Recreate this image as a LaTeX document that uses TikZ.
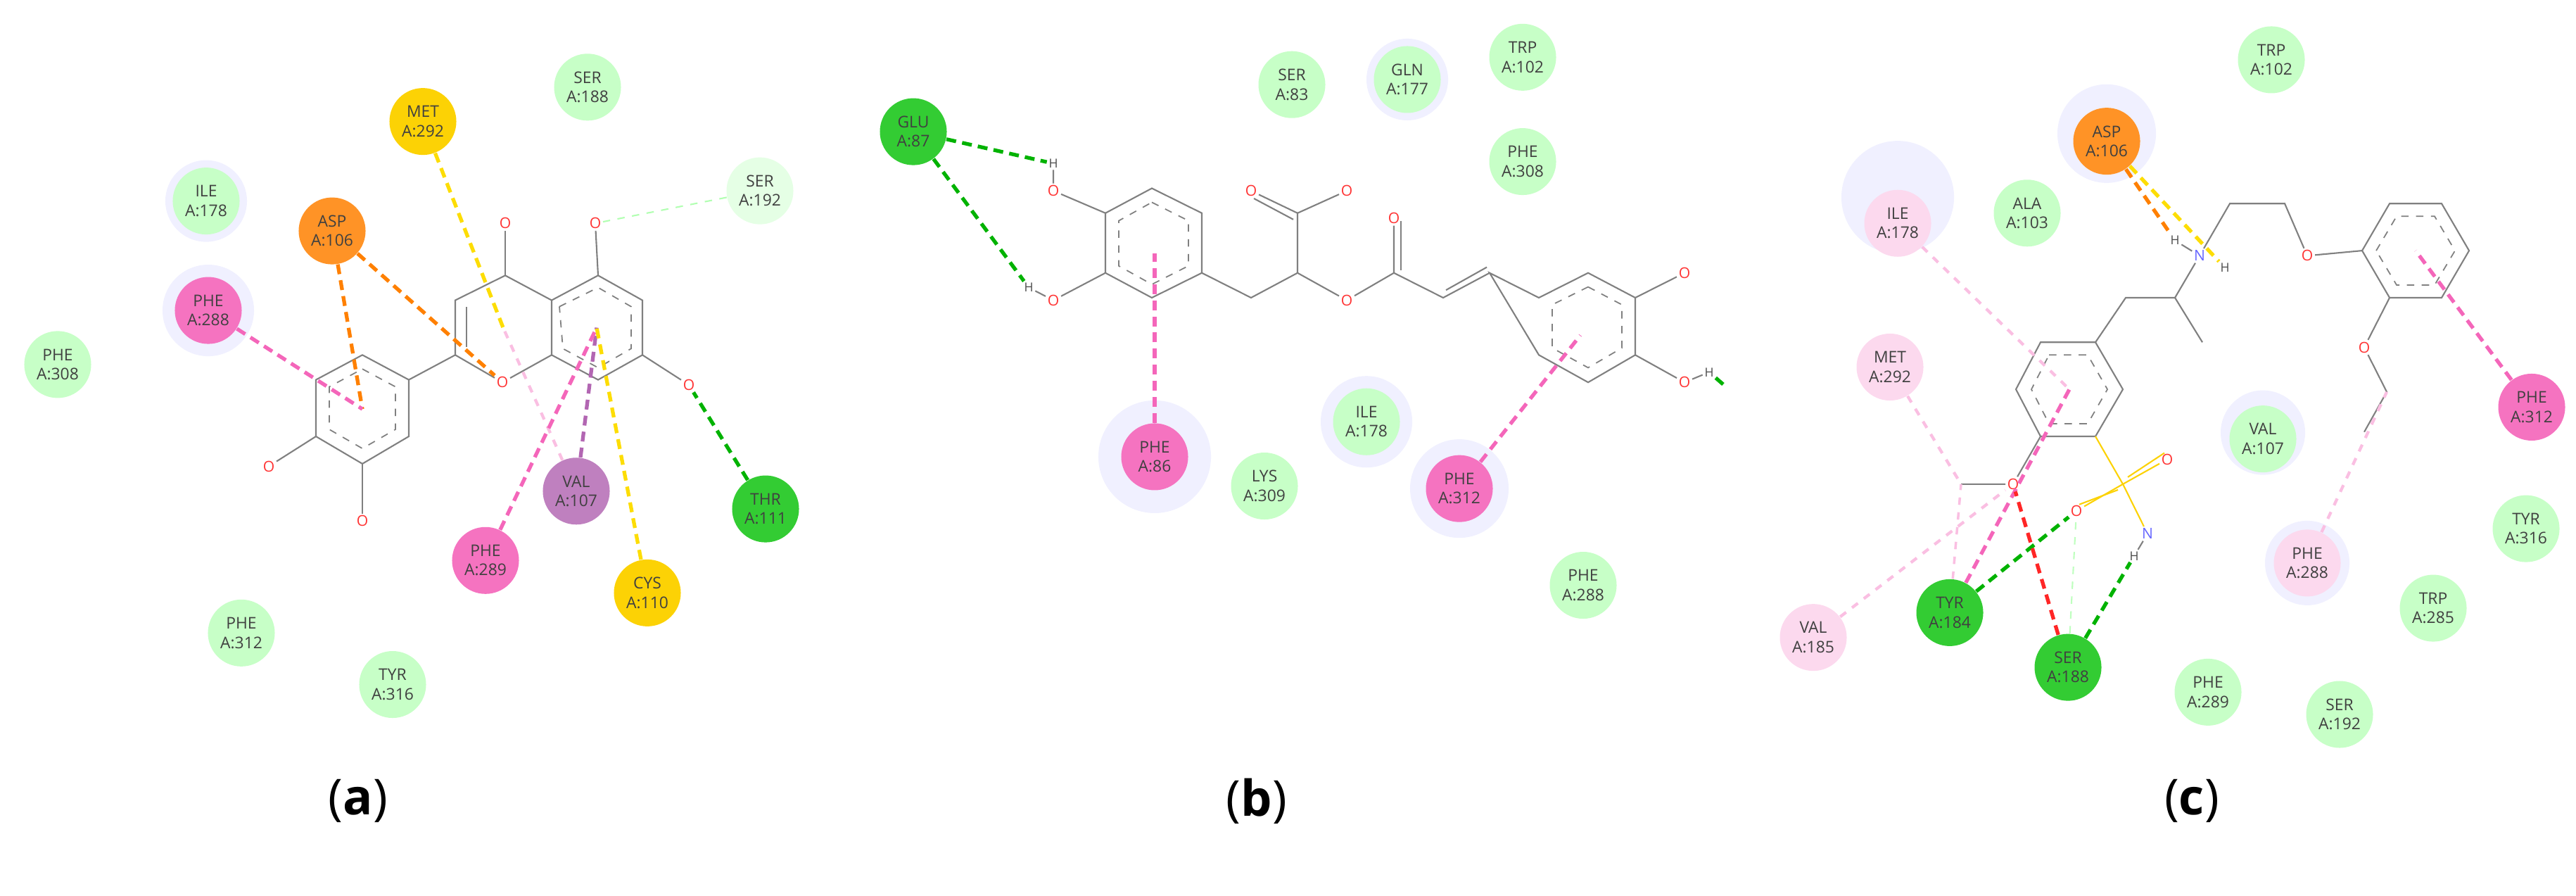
\documentclass[tikz,border=0pt]{standalone}
\usepackage{fontspec}
\setmainfont{Open Sans}
\begin{document}
\begin{tikzpicture}[x=0.01cm,y=-0.00903cm,
 res/.style={circle,minimum size=0.95cm,inner sep=0pt,align=center,font=\fontsize{6.5}{7.8}\selectfont,text=black!75},
 lg/.style={res,fill=green!22},
 dg/.style={res,fill=green!75!black!80},
 pk/.style={res,fill=magenta!55},
 lp/.style={res,fill=magenta!15},
 og/.style={res,fill=orange!85},
 yl/.style={res,fill=yellow!70!orange},
 pu/.style={res,fill=violet!50},
 halo/.style={fill=blue!6},
 bd/.style={gray,line width=0.6pt},
 ar/.style={gray,line width=0.5pt,dashed},
 oat/.style={inner sep=0.6pt,font=\fontsize{6}{6}\selectfont,text=red!80},
 hat/.style={inner sep=0.6pt,font=\fontsize{5}{5}\selectfont,text=black!70},
 nat/.style={inner sep=0.6pt,font=\fontsize{6}{6}\selectfont,text=blue!60},
 ia/.style={line width=1.5pt,dash pattern=on 4pt off 2.5pt},
 captxt/.style={font=\fontsize{20}{24}\selectfont}]
\useasboundingbox (0,0) rectangle (3661,1407.5);
% ================= (a)
\fill[halo] (296,488) circle (0.65cm); \fill[halo] (293,316) circle (0.58cm);
\coordinate (b1) at (515,558); \coordinate (b2) at (581,597); \coordinate (b3) at (581,686);
\coordinate (b4) at (515,729); \coordinate (b5) at (449,686); \coordinate (b6) at (449,597);
\coordinate (c2) at (647,558); \coordinate (c3) at (647,472); \coordinate (c4) at (718,433);
\coordinate (c4a) at (784,472); \coordinate (c8a) at (784,558);
\coordinate (c5) at (850,433); \coordinate (c6) at (913,472); \coordinate (c7) at (913,558); \coordinate (c8) at (850,597);
\node[oat] (o1) at (714,601) {O}; \node[oat] (o4) at (718,351) {O}; \node[oat] (o5) at (846,351) {O};
\node[oat] (o7) at (979,605) {O}; \node[oat] (ob1) at (382,733) {O}; \node[oat] (ob2) at (515,819) {O};
\draw[bd] (b1)--(b2)--(b3)--(b4)--(b5)--(b6)--cycle;
\draw[ar] (515,580)--(562,608)--(562,675)--(515,705)--(468,675)--(468,608)--cycle;
\draw[bd] (b2)--(c2)--(c3)--(c4)--(c4a)--(c8a); \draw[bd] (c2)--(o1)--(c8a);
\draw[bd] (663,545)--(663,482);
\draw[bd] (c4)--(o4); \draw[bd] (c4a)--(c5)--(c6)--(c7)--(c8)--(c8a);
\draw[ar] (795,482)--(850,452)--(897,482)--(897,548)--(850,578)--(800,548)--cycle;
\draw[bd] (c5)--(o5); \draw[bd] (c7)--(o7); \draw[bd] (b5)--(ob1); \draw[bd] (b4)--(ob2);
\coordinate (rB) at (515,643); \coordinate (rC) at (715,515); \coordinate (rA) at (848,515);
\node[yl] (met292) at (601,191) {MET\\A:292};
\node[lg] (ser188a) at (835,137) {SER\\A:188};
\node[res,fill=green!10] (ser192a) at (1080,300) {SER\\A:192};
\node[lg] (ile178a) at (293,316) {ILE\\A:178};
\node[og] (asp106a) at (472,363) {ASP\\A:106};
\node[pk] (phe288a) at (296,488) {PHE\\A:288};
\node[lg] (phe308a) at (82,573) {PHE\\A:308};
\node[pu] (val107a) at (819,772) {VAL\\A:107};
\node[dg] (thr111) at (1088,800) {THR\\A:111};
\node[pk] (phe289a) at (690,881) {PHE\\A:289};
\node[yl] (cys110) at (920,932) {CYS\\A:110};
\node[lg] (phe312a) at (343,995) {PHE\\A:312};
\node[lg] (tyr316a) at (558,1076) {TYR\\A:316};
\draw[ia,yellow!80!orange] (met292)--(rC);
\draw[ia,orange] (asp106a)--(rB); \draw[ia,orange] (asp106a)--(o1);
\draw[ia,magenta!60] (phe288a)--(rB);
\draw[green!30,line width=0.6pt,dashed] (ser192a)--(o5);
\draw[ia,violet!60] (val107a)--(rA);
\draw[magenta!25,line width=1.2pt,dashed] (val107a)--(rC);
\draw[ia,magenta!60] (phe289a)--(rA);
\draw[ia,yellow!80!orange] (cys110)--(rA);
\draw[ia,green!70!black] (thr111)--(o7);
\node[captxt] (capa) at (509,1259) {(\textbf{a})};
% ================= (b)
\fill[halo] (1641,718) circle (0.8cm); \fill[halo] (2074,768) circle (0.7cm); \fill[halo] (1942,663) circle (0.65cm); \fill[halo] (2000,125) circle (0.58cm);
\coordinate (p1) at (1637,296); \coordinate (p2) at (1708,335); \coordinate (p3) at (1708,429);
\coordinate (p4) at (1637,468); \coordinate (p5) at (1571,429); \coordinate (p6) at (1571,335);
\node[oat] (bo1) at (1497,300) {O}; \node[hat] (bh1) at (1497,257) {H};
\node[oat] (bo2) at (1497,472) {O}; \node[hat] (bh2) at (1462,452) {H};
\coordinate (ch2) at (1778,468); \coordinate (ch) at (1844,429); \coordinate (cc) at (1844,335);
\node[oat] (oeq) at (1778,300) {O}; \node[oat] (ooh) at (1914,300) {O};
\node[oat] (oest) at (1914,472) {O}; \coordinate (ce) at (1981,429); \node[oat] (oe) at (1981,343) {O};
\coordinate (cha) at (2051,468); \coordinate (chb) at (2117,429);
\coordinate (q1) at (2187,468); \coordinate (q2) at (2257,429); \coordinate (q3) at (2324,468);
\coordinate (q4) at (2324,558); \coordinate (q5) at (2257,601); \coordinate (q6) at (2187,558);
\node[oat] (bo3) at (2394,429) {O}; \node[oat] (bo4) at (2394,601) {O}; \node[hat] (bh4) at (2429,585) {H};
\coordinate (stub) at (2455,610);
\draw[bd] (p1)--(p2)--(p3)--(p4)--(p5)--(p6)--cycle;
\draw[ar] (1637,318)--(1689,347)--(1689,418)--(1637,447)--(1590,418)--(1590,347)--cycle;
\draw[bd] (p6)--(bo1)--(bh1); \draw[bd] (p5)--(bo2)--(bh2);
\draw[bd] (p3)--(ch2)--(ch)--(cc)--(ooh); \draw[bd] (cc)--(oeq); \draw[bd] (1838,345)--(1782,312);
\draw[bd] (ch)--(oest)--(ce)--(oe); \draw[bd] (1991,425)--(1991,347);
\draw[bd] (ce)--(cha)--(chb); \draw[bd] (2055,456)--(2113,420);
\draw[bd] (chb)--(q1)--(q2)--(q3)--(q4)--(q5)--(q6)--cycle;
\draw[ar] (2257,451)--(2305,479)--(2305,547)--(2257,578)--(2206,547)--(2206,479)--cycle;
\draw[bd] (q3)--(bo3); \draw[bd] (q4)--(bo4)--(bh4);
\node[dg] (glu87) at (1298,207) {GLU\\A:87};
\node[lg] (ser83) at (1836,133) {SER\\A:83};
\node[lg] (gln177) at (2000,125) {GLN\\A:177};
\node[lg] (trp102b) at (2164,90) {TRP\\A:102};
\node[lg] (phe308b) at (2164,254) {PHE\\A:308};
\node[pk] (phe86) at (1641,718) {PHE\\A:86};
\node[lg] (lys309) at (1797,764) {LYS\\A:309};
\node[lg] (ile178b) at (1942,663) {ILE\\A:178};
\node[pk] (phe312b) at (2074,768) {PHE\\A:312};
\node[lg] (phe288b) at (2250,920) {PHE\\A:288};
\draw[ia,green!70!black] (glu87)--(bh1); \draw[ia,green!70!black] (glu87)--(bh2);
\draw[ia,magenta!60] (phe86)--(1641,398);
\draw[ia,magenta!60] (phe312b)--(2246,527);
\draw[ia,green!70!black] (bh4)--(stub);
\node[captxt] (capb) at (1786,1259) {(\textbf{b})};
% ================= (c)
\fill[halo] (2697,310) circle (0.8cm); \fill[halo] (2994,210) circle (0.7cm); \fill[halo] (3216,680) circle (0.6cm); \fill[halo] (3279,885) circle (0.6cm);
\coordinate (r1) at (2900,538); \coordinate (r2) at (2978,538); \coordinate (r3) at (3017,612);
\coordinate (r4) at (2978,686); \coordinate (r5) at (2900,686); \coordinate (r6) at (2865,612);
\coordinate (cch2) at (3021,468); \coordinate (cch) at (3091,468); \node[nat] (cn) at (3126,402) {N};
\coordinate (cme) at (3130,538); \node[hat] (ch1) at (3091,378) {H}; \node[hat] (ch2h) at (3162,421) {H};
\coordinate (n1) at (3169,320); \coordinate (n2) at (3247,320); \node[oat] (co1) at (3279,402) {O};
\coordinate (s1) at (3357,394); \coordinate (s2) at (3396,320); \coordinate (s3) at (3470,320);
\coordinate (s4) at (3509,394); \coordinate (s5) at (3470,468); \coordinate (s6) at (3396,468);
\node[oat] (co2) at (3360,546) {O}; \coordinate (et1) at (3392,616); \coordinate (et2) at (3360,679);
\node[oat] (com) at (2861,761) {O}; \coordinate (cmc) at (2787,761);
\coordinate (cs) at (3017,761); \node[oat] (cso1) at (3080,722) {O}; \node[oat] (cso2) at (2951,803) {O};
\node[nat] (csn) at (3052,839) {N}; \node[hat] (csh) at (3033,874) {H};
\draw[bd] (r1)--(r2)--(r3)--(r4)--(r5)--(r6)--cycle;
\draw[ar] (2912,558)--(2967,558)--(2995,612)--(2967,666)--(2912,666)--(2887,612)--cycle;
\draw[bd] (r2)--(cch2)--(cch)--(cn)--(n1)--(n2)--(co1)--(s1); \draw[bd] (cch)--(cme);
\draw[bd] (cn)--(ch1);
\draw[bd] (s1)--(s2)--(s3)--(s4)--(s5)--(s6)--cycle;
\draw[ar] (3377,394)--(3406,340)--(3460,340)--(3489,394)--(3460,448)--(3406,448)--cycle;
\draw[bd] (s6)--(co2)--(et1)--(et2);
\draw[bd] (r5)--(com)--(cmc);
\draw[bd,yellow!70!orange] (r4)--(cs)--(csn); \draw[bd,yellow!70!orange] (cs)--(cso1); \draw[bd,yellow!70!orange] (3024,750)--(3076,712);
\draw[bd,yellow!70!orange] (cs)--(cso2); \draw[bd,yellow!70!orange] (3010,770)--(2955,793); \draw[bd] (csn)--(csh);
\node[lg] (trp102c) at (3228,94) {TRP\\A:102};
\node[og] (asp106c) at (2994,222) {ASP\\A:106};
\node[lp] (ile178c) at (2697,351) {ILE\\A:178};
\node[lg] (ala103) at (2881,335) {ALA\\A:103};
\node[lp] (met292c) at (2686,577) {MET\\A:292};
\node[lg] (val107c) at (3216,690) {VAL\\A:107};
\node[pk] (phe312c) at (3598,640) {PHE\\A:312};
\node[lg] (tyr316c) at (3590,831) {TYR\\A:316};
\node[lp] (phe288c) at (3279,885) {PHE\\A:288};
\node[lg] (trp285) at (3458,956) {TRP\\A:285};
\node[lp] (val185) at (2577,1002) {VAL\\A:185};
\node[dg] (tyr184) at (2771,963) {TYR\\A:184};
\node[dg] (ser188c) at (2939,1049) {SER\\A:188};
\node[lg] (phe289c) at (3138,1088) {PHE\\A:289};
\node[lg] (ser192c) at (3325,1123) {SER\\A:192};
\draw[ia,orange] (asp106c)--(ch1); \draw[ia,yellow!80!orange] (asp106c)--(ch2h);
\draw[magenta!25,line width=1.2pt,dashed] (ile178c)--(2941,612);
\draw[magenta!25,line width=1.2pt,dashed] (met292c)--(cmc);
\draw[magenta!25,line width=1pt,dashed] (tyr184)--(cmc);
\draw[magenta!25,line width=1.2pt,dashed] (val185)--(com);
\draw[ia,magenta!60] (tyr184)--(2941,612);
\draw[ia,green!70!black] (tyr184)--(cso2);
\draw[ia,red!85] (ser188c)--(com);
\draw[ia,green!70!black] (ser188c)--(csh);
\draw[green!25,line width=0.6pt,dashed] (ser188c)--(cso2);
\draw[magenta!25,line width=1.2pt,dashed] (phe288c)--(et1);
\draw[ia,magenta!60] (phe312c)--(3433,394);
\node[captxt] (capc) at (3115,1259) {(\textbf{c})};
\end{tikzpicture}
\end{document}
